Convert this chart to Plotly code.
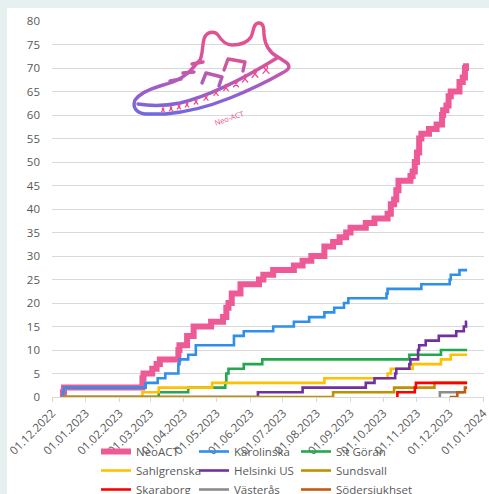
import base64
import pandas as pd
import plotly.graph_objects as go

# ---------------- data (cumulative patients, step change points) ----------------
neoact = [("2022-12-10", 0), ("2022-12-11", 1), ("2022-12-12", 2), ("2023-02-22", 4), ("2023-02-23", 5),
          ("2023-03-03", 6), ("2023-03-07", 7), ("2023-03-10", 8), ("2023-03-27", 10), ("2023-03-28", 11),
          ("2023-04-04", 13), ("2023-04-10", 15), ("2023-04-26", 16), ("2023-05-07", 17), ("2023-05-10", 19),
          ("2023-05-12", 20), ("2023-05-15", 22), ("2023-05-23", 24), ("2023-06-09", 25), ("2023-06-13", 26),
          ("2023-06-22", 27), ("2023-07-11", 28), ("2023-07-19", 29), ("2023-07-27", 30), ("2023-08-08", 32),
          ("2023-08-16", 33), ("2023-08-22", 34), ("2023-08-28", 35), ("2023-09-01", 36), ("2023-09-15", 37),
          ("2023-09-23", 38), ("2023-10-05", 39), ("2023-10-08", 41), ("2023-10-11", 42), ("2023-10-13", 44),
          ("2023-10-15", 46), ("2023-10-26", 47), ("2023-10-28", 48), ("2023-10-30", 50), ("2023-11-01", 52),
          ("2023-11-03", 55), ("2023-11-05", 56), ("2023-11-12", 57), ("2023-11-19", 58), ("2023-11-24", 60),
          ("2023-11-25", 61), ("2023-11-28", 62), ("2023-11-30", 64), ("2023-12-02", 65), ("2023-12-10", 67),
          ("2023-12-13", 68), ("2023-12-15", 70), ("2023-12-16", 71)]
karolinska = [("2022-12-10", 0), ("2022-12-11", 1), ("2022-12-12", 2), ("2023-02-25", 3), ("2023-03-08", 4),
              ("2023-03-15", 5), ("2023-03-27", 7), ("2023-03-28", 8), ("2023-04-05", 9), ("2023-04-12", 11),
              ("2023-05-17", 13), ("2023-05-26", 14), ("2023-06-22", 15), ("2023-07-11", 16), ("2023-07-25", 17),
              ("2023-08-08", 18), ("2023-08-17", 19), ("2023-08-26", 20), ("2023-08-30", 21), ("2023-10-04", 22),
              ("2023-10-05", 23), ("2023-11-05", 24), ("2023-12-01", 25), ("2023-12-02", 26), ("2023-12-10", 27),
              ("2023-12-17", 27)]
st_goran = [("2022-12-10", 0), ("2023-03-09", 1), ("2023-04-05", 2), ("2023-05-09", 3), ("2023-05-10", 5),
            ("2023-05-12", 6), ("2023-05-26", 7), ("2023-06-12", 8), ("2023-10-25", 9), ("2023-11-23", 10),
            ("2023-12-17", 10)]
sahlgrenska = [("2022-12-10", 0), ("2023-02-22", 1), ("2023-03-09", 2), ("2023-04-27", 3), ("2023-08-08", 4),
               ("2023-10-05", 5), ("2023-10-08", 6), ("2023-10-28", 7), ("2023-11-23", 8), ("2023-12-02", 9),
               ("2023-12-17", 9)]
helsinki = [("2022-12-10", 0), ("2023-06-08", 1), ("2023-07-19", 2), ("2023-09-15", 3), ("2023-09-23", 4),
            ("2023-10-12", 5), ("2023-10-13", 6), ("2023-10-25", 7), ("2023-10-26", 8), ("2023-11-02", 10),
            ("2023-11-03", 11), ("2023-11-09", 12), ("2023-11-21", 13), ("2023-12-07", 14), ("2023-12-14", 15),
            ("2023-12-16", 16), ("2023-12-17", 16)]
sundsvall = [("2022-12-10", 0), ("2023-08-16", 1), ("2023-10-11", 2), ("2023-11-17", 3), ("2023-12-17", 3)]
skaraborg = [("2023-10-13", 0), ("2023-10-14", 1), ("2023-10-30", 2), ("2023-10-31", 3), ("2023-12-17", 3)]
vasteras = [("2023-11-21", 0), ("2023-11-22", 1), ("2023-12-14", 1)]
sodersjukhuset = [("2023-12-01", 0), ("2023-12-08", 1), ("2023-12-15", 2), ("2023-12-17", 2)]

series_names = ["NeoACT", "Karolinska", "S:t Göran", "Sahlgrenska", "Helsinki US", "Sundsvall",
                "Skaraborg", "Västerås", "Södersjukhset"]
series_data = [neoact, karolinska, st_goran, sahlgrenska, helsinki, sundsvall, skaraborg, vasteras, sodersjukhuset]
series_colors = ["#EE5A96", "#2F8FE9", "#22A84E", "#FFC000", "#7030A0", "#BF9000", "#FF0000", "#8C8C8C", "#C55A11"]
series_widths = [6, 2.6, 2.6, 2.6, 2.6, 2.6, 2.6, 2.6, 2.6]

# x tick labels (first of each month)
tick_dates = pd.date_range("2022-12-01", "2024-01-01", freq="MS")
tick_labels = [d.strftime("%d.%m.%Y") for d in tick_dates]

# ---------------- figure ----------------
W, H = 489, 494
L, R, T, B = 52, 5, 21, 97
PW, PH = W - L - R, H - T - B


def px(xp):
    return (xp - L) / PW


def py(yp):
    return (H - B - yp) / PH


legend_ids = ["legend", "legend2", "legend3"]
fig = go.Figure()
for i, (name, data, col, w) in enumerate(zip(series_names, series_data, series_colors, series_widths)):
    fig.add_trace(go.Scatter(
        x=[d for d, v in data], y=[v for d, v in data], name=name, mode="lines",
        line=dict(color=col, width=w, shape="hv"), legend=legend_ids[i % 3],
    ))

# shoe logo (decorative vector drawing)
ribbons = [(163, 110, 3.2), (171, 109, 3.4), (179, 107, 3.6), (187, 105, 3.8), (196, 102, 4.0),
           (206, 98, 4.4), (216, 93, 4.8), (226, 88, 5.2), (236, 84, 5.6), (245, 79, 6.0),
           (255, 74, 6.4), (266, 70, 6.8)]
rib_paths = ""
for cx, cy, s in ribbons:
    rib_paths += (f'<path d="M {cx - s*0.45:.1f} {cy + s*0.5:.1f} L {cx + s*0.12:.1f} {cy - s*0.15:.1f} '
                  f'A {s*0.22:.1f} {s*0.28:.1f} 0 1 0 {cx - s*0.12:.1f} {cy - s*0.15:.1f} '
                  f'L {cx + s*0.45:.1f} {cy + s*0.5:.1f}" fill="none" stroke="#F04A8A" stroke-width="1.3" '
                  f'stroke-linecap="round"/>')
svg = f'''<svg xmlns="http://www.w3.org/2000/svg" viewBox="125 15 175 110" width="350" height="220" preserveAspectRatio="none">
<defs><linearGradient id="g" gradientUnits="userSpaceOnUse" x1="0" y1="22" x2="0" y2="115">
<stop offset="0" stop-color="#E8508A"/><stop offset="0.45" stop-color="#D4559E"/>
<stop offset="0.7" stop-color="#A25CC6"/><stop offset="1" stop-color="#6E6AE0"/></linearGradient></defs>
<g fill="none" stroke="url(#g)" stroke-width="3.4" stroke-linecap="round" stroke-linejoin="round">
<path d="M 135 100 C 140 93, 150 89, 160 86 L 173 82 C 180 79, 186 75, 190 71 L 200 60 C 203 54, 202 46, 204 39
 C 206 32, 214 30, 218 35 C 221 40, 225 45, 232 45 C 240 45, 247 43, 251 37 C 254 31, 253 24, 258 23
 C 264 22, 264 30, 264 35 C 265 45, 270 53, 278 57 L 287 63 C 291 67, 288 70, 284 72
 C 270 80, 250 90, 230 98 C 210 106, 190 112, 165 114 L 145 114 C 137 113, 132 108, 135 100 Z"/>
<path d="M 138 104 C 150 106, 165 106, 180 103 C 205 97, 235 84, 277 58"/>
<path d="M 170 81 L 181 79"/><path d="M 183 73 L 194 72"/><path d="M 192 64 L 203 62"/>
<path d="M 202 83 L 206 73 L 222 77 L 219 86"/><path d="M 224 70 L 228 59 L 245 62 L 243 71"/>
</g>
{rib_paths}
</svg>'''
src = "data:image/svg+xml;base64," + base64.b64encode(svg.encode("utf-8")).decode("ascii")
fig.add_layout_image(dict(source=src, xref="paper", yref="paper", x=px(125), y=py(15),
                          sizex=175 / PW, sizey=110 / PH, xanchor="left", yanchor="top",
                          sizing="stretch", layer="above"))
fig.add_annotation(text="Neo-ACT", xref="paper", yref="paper", x=px(229), y=py(106), showarrow=False,
                   textangle=-19, font=dict(family="Open Sans", size=7.5, color="#E8508A"))

# light frame strips on top and left
frame = "#E6F0F0"
fig.add_shape(type="rect", xref="paper", yref="paper", x0=px(-20), x1=px(7), y0=py(H + 20), y1=py(-20),
              fillcolor=frame, line=dict(width=0), layer="below")
fig.add_shape(type="rect", xref="paper", yref="paper", x0=px(-20), x1=px(W + 20), y0=py(8), y1=py(-20),
              fillcolor=frame, line=dict(width=0), layer="below")

tick_font = dict(family="Open Sans", size=11.5, color="#595959")
leg_font = dict(family="Open Sans", size=11.5, color="#595959")
leg_common = dict(orientation="v", xanchor="left", y=py(437), yanchor="top", font=leg_font,
                  bgcolor="rgba(0,0,0,0)", itemwidth=30, tracegroupgap=0, traceorder="normal")
fig.update_layout(
    width=W, height=H, margin=dict(l=L, r=R, t=T, b=B, autoexpand=False),
    paper_bgcolor="white", plot_bgcolor="rgba(0,0,0,0)",
    font=tick_font,
    showlegend=True,
    legend=dict(x=px(96), **leg_common),
    legend2=dict(x=px(194), **leg_common),
    legend3=dict(x=px(296), **leg_common),
)
fig.update_xaxes(type="date", range=["2022-12-01", "2024-01-01 12:00"], tickmode="array",
                 tickvals=list(tick_dates), ticktext=tick_labels, ticklabeloverflow="allow",
                 tickangle=-45, showgrid=False, showline=True, linecolor="#D9D9D9",
                 linewidth=1, ticks="outside", ticklen=4, tickcolor="#D9D9D9", tickfont=tick_font, zeroline=False)
fig.update_yaxes(range=[0, 80], dtick=5, showgrid=True, gridcolor="#D9D9D9", gridwidth=1, zeroline=False,
                 tickfont=tick_font, ticklabelstandoff=11, showline=False)

fig.write_html("out.html", config={"displayModeBar": False}, post_script="document.body.style.margin='0px';")
